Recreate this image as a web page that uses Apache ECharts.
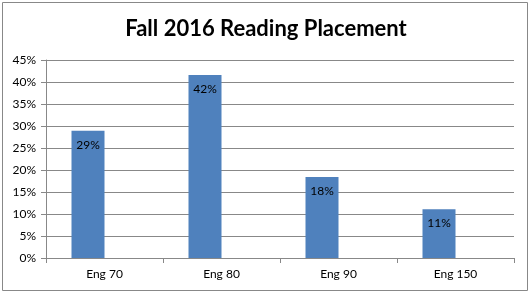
<!DOCTYPE html>
<html>
<head>
<meta charset="utf-8">
<script src="https://cdn.jsdelivr.net/npm/echarts@6/dist/echarts.min.js"></script>
<style>html,body{margin:0;padding:0;background:#fff}#c{width:532px;height:294px}</style>
</head>
<body>
<div id="c"></div>
<script>
var titleText = 'Fall 2016 Reading Placement';
var categories = ['Eng 70', 'Eng 80', 'Eng 90', 'Eng 150'];
var placement = [0.289, 0.416, 0.184, 0.111];
var emptySeries = [null, null, null, null];

var chart = echarts.init(document.getElementById('c'), null, {renderer: 'canvas'});
chart.setOption({
  animation: false,
  backgroundColor: '#ffffff',
  title: {
    text: titleText,
    left: 'center',
    top: 13,
    textStyle: {fontFamily: 'Lato', fontWeight: 'bold', fontSize: 22, color: '#000'}
  },
  graphic: [{
    type: 'rect',
    shape: {x: 2.5, y: 2.5, width: 525, height: 288},
    style: {fill: 'none', stroke: '#888888', lineWidth: 1},
    silent: true
  }],
  grid: {left: 46, right: 18, top: 60, bottom: 36},
  xAxis: {
    type: 'category',
    data: categories,
    axisLine: {lineStyle: {color: '#888888'}},
    axisTick: {show: true, length: 5, alignWithLabel: false, lineStyle: {color: '#888888'}},
    axisLabel: {color: '#000', fontFamily: 'Lato', fontSize: 12, margin: 10}
  },
  yAxis: {
    type: 'value',
    min: 0,
    max: 0.45,
    interval: 0.05,
    axisLine: {show: true, lineStyle: {color: '#888888'}},
    axisTick: {show: true, length: 5, lineStyle: {color: '#888888'}},
    splitLine: {lineStyle: {color: '#888888'}},
    axisLabel: {
      color: '#000', fontFamily: 'Lato', fontSize: 12, margin: 10,
      formatter: function (v) { return Math.round(v * 100) + '%'; }
    }
  },
  series: [{
    type: 'bar',
    data: placement,
    barWidth: 33,
    barGap: '0%',
    itemStyle: {color: '#4F81BD'},
    label: {
      show: true,
      position: 'insideTop',
      distance: 8,
      color: '#000',
      fontFamily: 'Lato',
      fontSize: 12,
      formatter: function (p) { return Math.round(p.value * 100) + '%'; }
    }
  }, {
    type: 'bar',
    data: emptySeries,
    barWidth: 33,
    barGap: '0%'
  }]
});
</script>
</body>
</html>
